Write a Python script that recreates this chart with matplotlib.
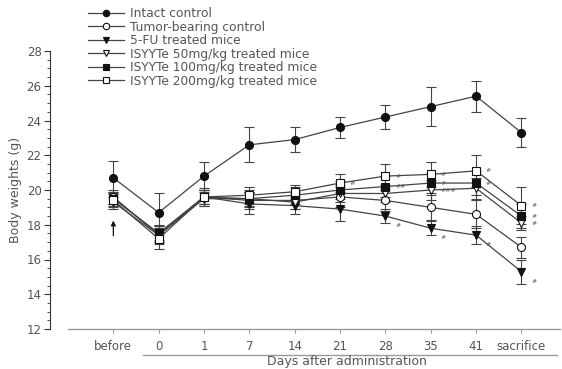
import numpy as np
import matplotlib
matplotlib.use('Agg')
import matplotlib.pyplot as plt
from matplotlib.lines import Line2D

plt.rcParams['font.family'] = ['DejaVu Sans']

days = ['before', '0', '1', '7', '14', '21', '28', '35', '41', 'sacrifice']

intact = [20.7, 18.7, 20.8, 22.6, 22.9, 23.6, 24.2, 24.8, 25.4, 23.3]
intact_err = [0.95, 1.1, 0.8, 1.0, 0.7, 0.6, 0.7, 1.1, 0.9, 0.85]
tumor = [19.6, 17.4, 19.6, 19.4, 19.4, 19.6, 19.4, 19.0, 18.6, 16.7]
tumor_err = [0.4, 0.5, 0.4, 0.5, 0.5, 0.6, 0.6, 0.7, 0.8, 0.6]
fu5 = [19.5, 17.5, 19.6, 19.2, 19.1, 18.9, 18.5, 17.8, 17.4, 15.3]
fu5_err = [0.3, 0.4, 0.4, 0.6, 0.5, 0.7, 0.4, 0.4, 0.5, 0.7]
isy50 = [19.3, 17.4, 19.5, 19.5, 19.3, 19.8, 19.8, 20.0, 20.1, 18.1]
isy50_err = [0.3, 0.4, 0.4, 0.4, 0.4, 0.5, 0.5, 0.6, 0.6, 0.4]
isy100 = [19.5, 17.5, 19.6, 19.5, 19.7, 20.0, 20.2, 20.4, 20.4, 18.5]
isy100_err = [0.4, 0.5, 0.4, 0.5, 0.5, 0.5, 0.6, 0.6, 0.7, 0.7]
isy200 = [19.4, 17.2, 19.6, 19.7, 19.9, 20.4, 20.8, 20.9, 21.1, 19.1]
isy200_err = [0.5, 0.6, 0.5, 0.5, 0.4, 0.5, 0.7, 0.7, 0.9, 1.05]

labels = ['Intact control', 'Tumor-bearing control', '5-FU treated mice',
          'ISYYTe 50mg/kg treated mice', 'ISYYTe 100mg/kg treated mice',
          'ISYYTe 200mg/kg treated mice']
# (series index, point index, text)
marks = [(5, 5, '#'), (5, 6, '#'), (4, 6, '##'), (2, 6, '#'),
         (5, 7, '#'), (4, 7, '#'), (3, 7, '###'), (2, 7, '#'),
         (5, 8, '#'), (4, 8, '#'), (2, 8, '#'),
         (5, 9, '#'), (4, 9, '#'), (3, 9, '#'), (2, 9, '#')]

series = [(intact, intact_err, 'o', '#111111'),
          (tumor, tumor_err, 'o', 'white'),
          (fu5, fu5_err, 'v', '#111111'),
          (isy50, isy50_err, 'v', 'white'),
          (isy100, isy100_err, 's', '#111111'),
          (isy200, isy200_err, 's', 'white')]

fig = plt.figure(figsize=(5.62, 3.69), dpi=100)
ax = fig.add_axes([68 / 562, 1 - 329 / 369, (560 - 68) / 562, (329 - 51) / 369])
x = np.arange(len(days))

handles = []
for (vals, err, mk, fc), lab in zip(series, labels):
    ax.errorbar(x, vals, yerr=err, fmt='none', ecolor='#444444',
                elinewidth=0.8, capsize=3.5, capthick=0.8, zorder=2)
    h, = ax.plot(x, vals, '-', color='#444444', lw=0.9, marker=mk,
                 markersize=5.8, markerfacecolor=fc, markeredgecolor='#111111',
                 markeredgewidth=0.8, zorder=3)
    handles.append(h)

for si, pi, txt in marks:
    vals = series[si][0]
    dy = -7 if si == 2 else 0
    ax.annotate(txt, (x[pi], vals[pi]), xytext=(7, dy), textcoords='offset points',
                fontsize=4.5, color='#555555', va='center', ha='left')

ax.annotate('', xy=(0, 18.4), xytext=(0, 17.2),
            arrowprops=dict(arrowstyle='-|>', color='#111111', lw=0.9,
                            mutation_scale=7))

ax.set_xlim(-1.0, 9.85)
ax.set_ylim(12, 28)
ax.set_xticks(x)
ax.set_xticklabels(days)
ax.set_yticks(np.arange(12, 29, 2))
ax.set_yticks(np.arange(12, 28.1, 0.5), minor=True)
for s in ['top', 'right']:
    ax.spines[s].set_visible(False)
ax.spines['left'].set_position(('outward', 13))
ax.spines['left'].set_color('#333333')
ax.spines['left'].set_linewidth(0.8)
ax.spines['bottom'].set_color('#999999')
ax.spines['bottom'].set_linewidth(1.0)
ax.tick_params(axis='y', which='major', length=4, width=0.8, colors='#333333',
               labelsize=8.5, labelcolor='#555555', pad=2)
ax.tick_params(axis='y', which='minor', length=2, width=0.6, colors='#333333')
ax.tick_params(axis='x', length=3, width=0.8, colors='#999999',
               labelsize=8.5, labelcolor='#555555', pad=5)
ax.set_ylabel('Body weights (g)', fontsize=9, color='#555555', labelpad=3)

fig.add_artist(Line2D([143 / 562, 557 / 562], [1 - 355 / 369, 1 - 355 / 369],
                      color='#999999', lw=1.0))
fig.text(347 / 562, 1 / 369, 'Days after administration', fontsize=9,
         color='#555555', ha='center', va='bottom')

fig.legend(handles, labels, loc='upper left', bbox_to_anchor=(82 / 562, 1 - 1 / 369),
           frameon=False, fontsize=8.8, handlelength=2.9, labelspacing=0.04,
           borderpad=0, handletextpad=0.5, labelcolor='#555555', markerscale=0.8)

fig.savefig('out.png', dpi=100)
